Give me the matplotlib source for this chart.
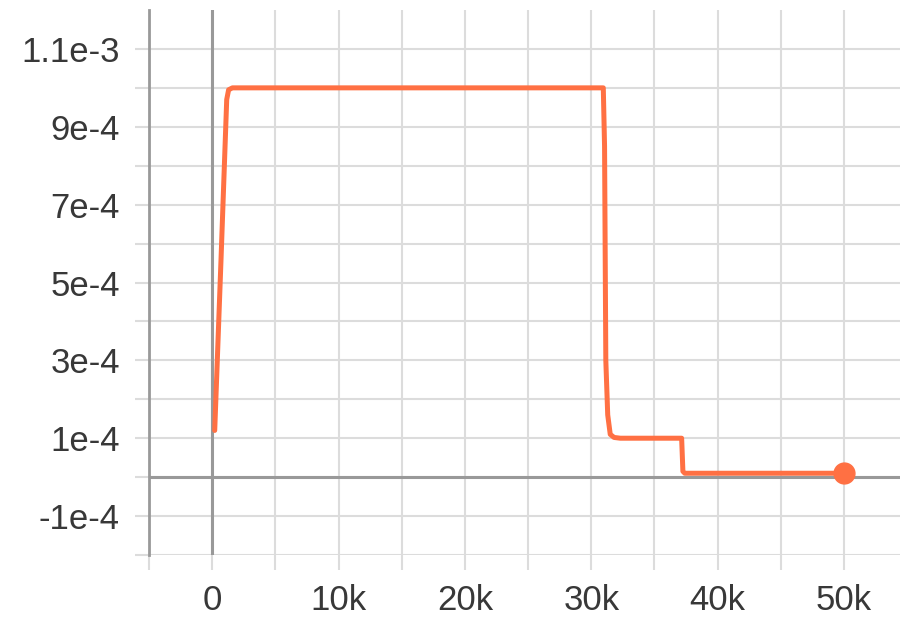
import numpy as np
import matplotlib.pyplot as plt

plt.rcParams['font.family'] = ['Liberation Sans', 'DejaVu Sans']

# learning rate schedule
steps = [200, 700, 1150, 1300, 1600, 30950, 31050, 31150, 31300, 31500, 31800, 32300,
         37150, 37250, 37400, 50000]
lr = [1.2e-4, 5.6e-4, 9.7e-4, 9.95e-4, 1e-3, 1e-3, 8.5e-4, 3e-4, 1.6e-4, 1.1e-4, 1.02e-4, 1e-4,
      1e-4, 1.5e-5, 1e-5, 1e-5]

xticks = [-5000, 0, 5000, 10000, 15000, 20000, 25000, 30000, 35000, 40000, 45000, 50000]
xlabels = ['', '0', '', '10k', '', '20k', '', '30k', '', '40k', '', '50k']
yticks = [-2e-4, -1e-4, 0, 1e-4, 2e-4, 3e-4, 4e-4, 5e-4, 6e-4, 7e-4, 8e-4, 9e-4, 1e-3, 1.1e-3]
ylabels = ['', '-1e-4', '', '1e-4', '', '3e-4', '', '5e-4', '', '7e-4', '', '9e-4', '', '1.1e-3']

fig = plt.figure(figsize=(9, 6.19), dpi=100)
ax = fig.add_axes([149 / 900, 1 - 555 / 619, 1 - 149 / 900, (555 - 10) / 619])

color = '#ff7043'
ax.plot(steps, lr, color=color, lw=3.6, solid_joinstyle='round', solid_capstyle='round', zorder=5)
ax.plot(steps[-1], lr[-1], 'o', color=color, ms=15, zorder=6)

ax.axhline(0, color='#999999', lw=2.2, zorder=3)
ax.axvline(0, color='#999999', lw=2.2, zorder=3)

ax.set_xlim(-5000, 54430)
ax.set_ylim(-2e-4, 1.2e-3)
ax.set_xticks(xticks)
ax.set_xticklabels(xlabels)
ax.set_yticks(yticks)
ax.set_yticklabels(ylabels)

ax.grid(True, color='#dcdcdc', lw=1.5, zorder=1)
for s in ['top', 'right', 'bottom']:
    ax.spines[s].set_visible(False)
ax.spines['left'].set_color('#999999')
ax.spines['left'].set_linewidth(2)

ax.tick_params(axis='x', length=11, width=1.5, color='#dcdcdc', pad=10,
               labelsize=25, labelcolor='#383838')
ax.tick_params(axis='y', length=10, width=1.5, color='#dcdcdc', pad=11,
               labelsize=25, labelcolor='#383838')

fig.savefig('out.png', dpi=100)
